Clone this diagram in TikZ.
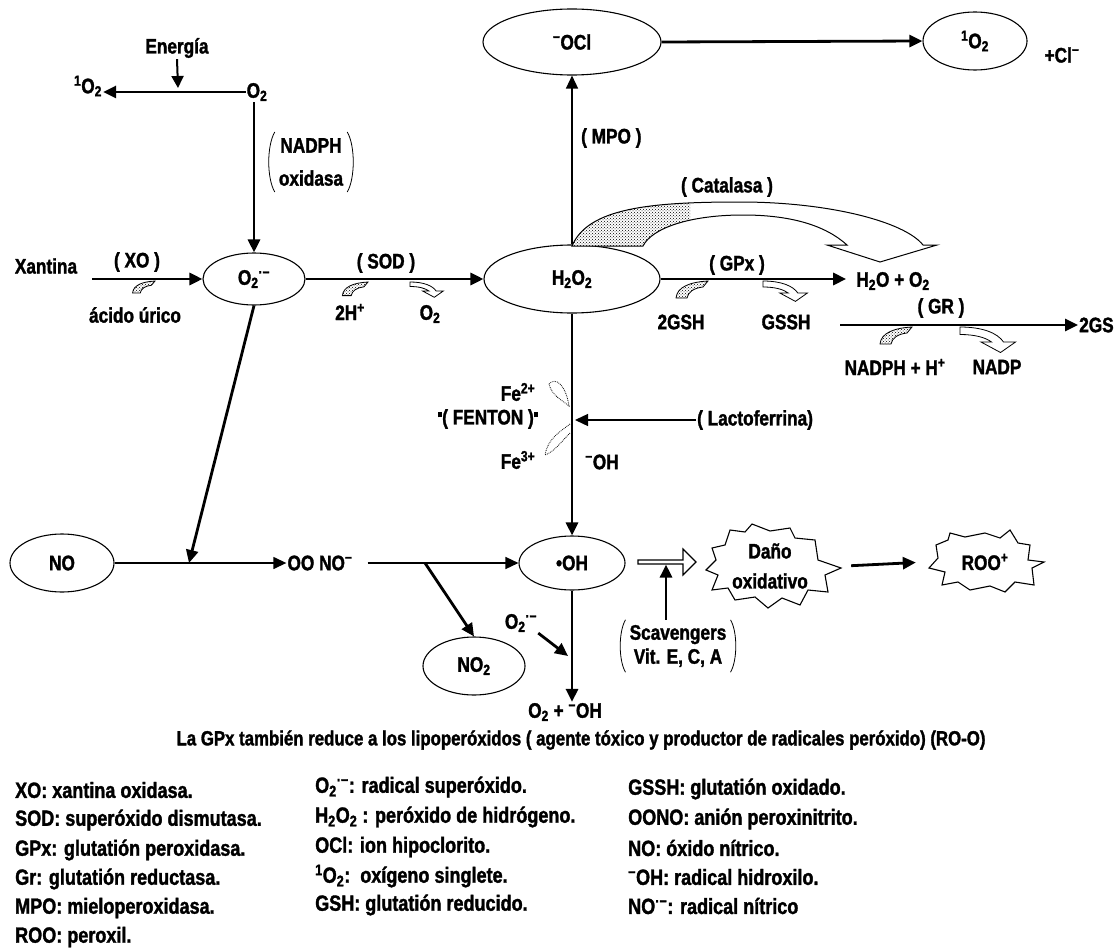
\documentclass[tikz,border=0pt]{standalone}
\usepackage{fontspec}
\setmainfont{Liberation Sans}[FakeStretch=0.82, BoldFeatures={FakeBold=1.5}]
\usetikzlibrary{arrows.meta,patterns,shapes.geometric,shapes.arrows}
\newcommand{\sbs}[1]{\textsubscript{#1}}
\newcommand{\sps}[1]{\textsuperscript{#1}}
\newcommand{\supox}{O\textsubscript{2}\textsuperscript{·−}}
\newcommand{\singox}{\textsuperscript{1}O\textsubscript{2}}
\begin{document}
\begin{tikzpicture}[x=1pt,y=-1pt,
  every node/.style={font=\fontsize{21}{24}\selectfont\bfseries, inner sep=1pt},
  oval/.style={draw, ellipse, line width=1.1pt, inner sep=0pt},
  arr/.style={line width=2.8pt, -{Triangle[length=13pt,width=12pt]}},
  thinarr/.style={line width=1.4pt, -{Triangle[length=13pt,width=12pt]}},
  leg/.style={anchor=west, font=\fontsize{22}{24}\selectfont\bfseries},
  paren/.style={line width=0.8pt},
  blobline/.style={line width=0.8pt},
  inblob/.pic={\draw[blobline, pattern=crosshatch dots] (-32,17) .. controls (-31,6) and (-18,1) .. (0,0) -- (-5,6) .. controls (-14,7) and (-20,11) .. (-21,17) -- cycle;},
  outblob/.pic={\draw[blobline, fill=white] (0,0) .. controls (15,0) and (25,4) .. (29,10) -- (37,10) -- (27,17) -- (14,10) -- (21,10) .. controls (17,7) and (10,5) .. (0,5) -- cycle;}
]
\useasboundingbox (0,0) rectangle (1118,952);

% ---------- top left ----------
\node (ener) at (177,48) {Energía};
\node (sing1) at (88,86) {\singox};
\node (o2a) at (257,92) {O\sbs{2}};
\coordinate (ehit) at (178,88);
\draw[line width=2pt, -{Triangle[length=12pt,width=12pt]}] (ener.south) -- (ehit);
\draw[arr] (o2a.west) -- (o2a.west -| sing1.east);
\node[align=center, inner xsep=9pt, inner ysep=6pt, font=\fontsize{21}{33}\selectfont\bfseries] (nadph) at (311,162) {NADPH\\oxidasa};
\draw[paren] ([xshift=5pt]nadph.north west) .. controls +(-8,14) and +(-8,-14) .. ([xshift=5pt]nadph.south west);
\draw[paren] ([xshift=-5pt]nadph.north east) .. controls +(8,14) and +(8,-14) .. ([xshift=-5pt]nadph.south east);

% ---------- superoxide row ----------
\node[oval, minimum width=102pt, minimum height=52pt] (sup) at (254,279) {\supox};
\draw[arr] (sup.north |- o2a.south) -- (sup.north);
\node (xan) at (46,266) {Xantina};
\node (xo) at (137,262) {( XO )};
\node (urico) at (135,315) {ácido úrico};
\draw[arr, shorten <=14pt] (xan.east |- sup.west) -- (sup.west);
\pic[scale=0.7] at (155,281) {inblob};

\node[oval, minimum width=176pt, minimum height=68pt] (h2o2) at (572,279) {H\sbs{2}O\sbs{2}};
\node (sod) at (386,263) {( SOD )};
\node (hplus) at (350,312) {2H\sps{+}};
\node (o2b) at (430,314) {O\sbs{2}};
\draw[arr] (sup.east) -- (h2o2.west);
\pic[scale=0.8] at (368,282) {inblob};
\pic[scale=0.9] at (410,282) {outblob};

% ---------- hypochlorite ----------
\node[oval, minimum width=178pt, minimum height=66pt] (ocl) at (572,42) {\sps{−}OCl};
\node[oval, minimum width=104pt, minimum height=58pt] (sing) at (975,41) {\singox};
\node (cl) at (1062,55) {+Cl\sps{−}};
\draw[arr] (ocl.east) -- (sing.west);
\draw[thinarr] (h2o2.north) -- (ocl.south);
\node[anchor=west] (mpo) at (580,138) {( MPO )};

% ---------- catalase ----------
\node (cat) at (727,187) {( Catalasa )};
\path[save path=\catp] (572,246) .. controls (588,208) and (650,202) .. (740,202) .. controls (830,202) and (905,222) .. (923,245) -- (937,245) -- (880,262) -- (827,245) -- (847,245) .. controls (825,225) and (790,215) .. (743,215) .. controls (690,215) and (652,228) .. (643,246) -- cycle;
\fill[white, use path=\catp];
\begin{scope}
  \clip (560,190) rectangle (690,262);
  \path[pattern=crosshatch dots, use path=\catp];
\end{scope}
\draw[line width=1pt, use path=\catp];

% ---------- glutathione ----------
\node (h2o) at (893,281) {H\sbs{2}O + O\sbs{2}};
\node (gpx) at (737,265) {( GPx )};
\draw[arr, shorten >=9pt] (h2o2.east) -- (h2o2.east -| h2o.west);
\pic at (708,281) {inblob};
\pic[scale=1.2] at (763,281) {outblob};
\node (gsh) at (681,322) {2GSH};
\node (gssh) at (786,322) {GSSH};
\node (gr) at (941,308) {( GR )};
\node[anchor=west] (gs) at (1078,325) {2GS};
\coordinate (grstart) at (840,325);
\draw[arr] (grstart) -- (gs.west);
\pic at (912,327) {inblob};
\pic[scale=1.5] at (960,327) {outblob};
\node (nadphh) at (895,367) {NADPH + H\sps{+}};
\node (nadp) at (997,367) {NADP};

% ---------- Fenton ----------
\node[oval, minimum width=106pt, minimum height=54pt] (oh) at (572,563) {•OH};
\draw[arr] (h2o2.south) -- (oh.north);
\node (fe2) at (518,392) {Fe\sps{2+}};
\node (fenton) at (488,419) {\rule[7pt]{4pt}{5pt}( FENTON )\rule[7pt]{4pt}{5pt}};
\node (fe3) at (518,460) {Fe\sps{3+}};
\node (ohm) at (602,462) {\sps{−}OH};
\node[anchor=west] (lacto) at (696,420) {( Lactoferrina)};
\coordinate (fpt) at (575,420);
\draw[thinarr] (lacto.west) -- (fpt);
\draw[line width=0.8pt, densely dotted] (549,384) .. controls (556,376) and (566,386) .. (569,406) .. controls (562,400) and (552,396) .. (549,384) -- cycle;
\draw[line width=0.8pt, densely dotted] (570,424) .. controls (560,432) and (548,438) .. (545,455) .. controls (554,452) and (561,442) .. (570,433);

% ---------- NO branch ----------
\node[oval, minimum width=104pt, minimum height=58pt] (no) at (62,563) {NO};
\node (oono) at (320,563) {OO NO\sps{−}};
\coordinate (hitno) at (189,563);
\draw[thinarr] (no.east) -- (oono.west);
\draw[arr] (sup.south) -- (hitno);
\draw[thinarr, shorten <=14pt] (oono.east) -- (oh.west);
\node[oval, minimum width=102pt, minimum height=58pt] (no2) at (474,666) {NO\sbs{2}};
\coordinate (branch) at (425,563);
\draw[arr] (branch) -- (no2.north);
\node (supb) at (521,623) {\supox};
\coordinate (hitoh) at (568,656);
\draw[arr] (supb.south east) -- (hitoh);
\node (oout) at (565,712) {O\sbs{2} + \sps{−}OH};
\draw[arr] (oh.south) -- (oh.south |- oout.north);

% ---------- damage ----------
\node[single arrow, draw, line width=1.1pt, minimum height=58pt, minimum width=26pt, single arrow head extend=3pt, inner sep=0pt] (hollow) at (666,562) {};
\node[align=center, inner xsep=9pt, inner ysep=5pt, font=\fontsize{21}{24}\selectfont\bfseries] (scav) at (678,646) {Scavengers\\Vit. E, C, A};
\draw[paren] ([xshift=5pt]scav.north west) .. controls +(-7,12) and +(-7,-12) .. ([xshift=5pt]scav.south west);
\draw[paren] ([xshift=-5pt]scav.north east) .. controls +(7,12) and +(7,-12) .. ([xshift=-5pt]scav.south east);
\draw[arr] (scav.north -| hollow.south) -- (hollow.south);

\draw[line width=1.1pt] (712,548) -- (725,545) -- (730,530) -- (745,532) -- (752,524) -- (770,531) -- (790,528) -- (795,538) -- (815,540) -- (818,560) -- (841,568) -- (825,575) -- (828,592) -- (808,590) -- (800,605) -- (782,598) -- (768,608) -- (755,597) -- (735,600) -- (728,588) -- (712,590) -- (718,575) -- (706,570) -- (716,560) -- cycle;
\node[align=center, minimum width=150pt, font=\fontsize{21}{30}\selectfont\bfseries] (dano) at (770,566) {Daño\\oxidativo};
\draw[line width=1.1pt] (936,545) -- (948,540) -- (950,533) -- (965,537) -- (985,533) -- (1000,538) -- (1010,530) -- (1018,543) -- (1030,545) -- (1028,560) -- (1044,562) -- (1032,568) -- (1034,585) -- (1015,582) -- (1005,592) -- (990,586) -- (970,590) -- (958,582) -- (942,585) -- (945,572) -- (929,568) -- (938,558) -- cycle;
\node[minimum width=118pt] (roo) at (985,562) {ROO\sps{+}};
\draw[arr, shorten <=6pt, shorten >=10pt] (dano.east) -- (roo.west);

% ---------- note ----------
\node[font=\fontsize{20.5}{22}\selectfont\bfseries] (note) at (581,740) {La GPx también reduce a los lipoperóxidos ( agente tóxico y productor de radicales peróxido) (RO-O)};

% ---------- legend ----------
\node[leg] (l1) at (14,790) {XO: xantina oxidasa.};
\node[leg] (l2) at (14,820) {SOD: superóxido dismutasa.};
\node[leg] (l3) at (14,850) {GPx: glutatión peroxidasa.};
\node[leg] (l4) at (14,879) {Gr: glutatión reductasa.};
\node[leg] (l5) at (14,908) {MPO: mieloperoxidasa.};
\node[leg] (l6) at (14,937) {ROO: peroxil.};
\node[leg] (m1) at (314,787) {\supox: radical superóxido.};
\node[leg] (m2) at (314,817) {H\sbs{2}O\sbs{2} : peróxido de hidrógeno.};
\node[leg] (m3) at (314,847) {OCl: ion hipoclorito.};
\node[leg] (m4) at (314,876) {\singox:\ \ oxígeno singlete.};
\node[leg] (m5) at (314,905) {GSH: glutatión reducido.};
\node[leg] (r1) at (627,789) {GSSH: glutatión oxidado.};
\node[leg] (r2) at (627,819) {OONO: anión peroxinitrito.};
\node[leg] (r3) at (627,848) {NO: óxido nítrico.};
\node[leg] (r4) at (627,877) {\sps{−}OH: radical hidroxilo.};
\node[leg] (r5) at (627,906) {NO\sps{·−}: radical nítrico};
\end{tikzpicture}
\end{document}
